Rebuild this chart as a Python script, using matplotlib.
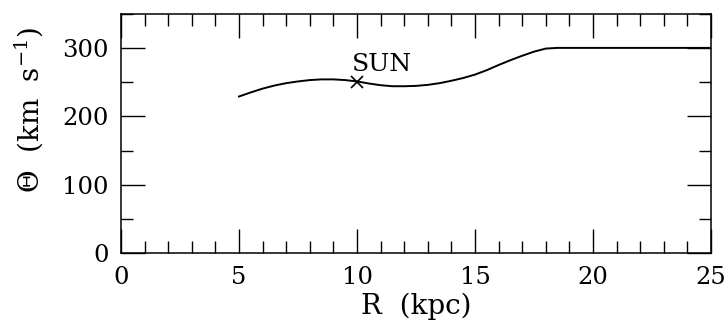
import numpy as np
import matplotlib.pyplot as plt
from matplotlib.ticker import MultipleLocator

# Кривая вращения Галактики
r_kpc = [5, 5.5, 6, 6.5, 7, 7.5, 8, 8.5, 9, 9.5, 10, 10.5, 11, 11.5, 12, 12.5,
         13, 13.5, 14, 14.5, 15, 15.5, 16, 16.5, 17, 17.5, 18, 18.5, 19, 20,
         22, 25]
theta = [229, 235, 240.5, 245, 248.5, 251, 253, 254, 254, 253, 251, 248, 245.5,
         244, 244, 244.5, 246, 248.5, 252, 256, 261, 267.5, 275, 282, 288.5,
         294.5, 299, 300, 300, 300, 300, 300]

# Положение Солнца
sun_r = 10
sun_theta = 250

plt.rcParams['font.family'] = 'DejaVu Serif'
plt.rcParams['mathtext.fontset'] = 'dejavuserif'

fig = plt.figure(figsize=(7.25, 3.25), dpi=100)
ax = fig.add_axes([0.1669, 0.2206, 0.8138, 0.7374])

ax.plot(r_kpc, theta, color='black', lw=1.4)
ax.plot(sun_r, sun_theta, marker='x', color='black', ms=9, mew=1.2)
ax.text(sun_r - 0.2, sun_theta + 9, 'SUN', fontsize=18, ha='left', va='bottom')

ax.set_xlim(0, 25)
ax.set_ylim(0, 350)
ax.xaxis.set_major_locator(MultipleLocator(5))
ax.xaxis.set_minor_locator(MultipleLocator(1))
ax.yaxis.set_major_locator(MultipleLocator(100))
ax.yaxis.set_minor_locator(MultipleLocator(50))
ax.tick_params(which='both', direction='in', top=True, right=True,
               labelsize=17.5, width=1)
ax.tick_params(which='major', length=17, pad=9)
ax.tick_params(which='minor', length=8.5)
for s in ax.spines.values():
    s.set_linewidth(1.1)

ax.set_xlabel('R  (kpc)', fontsize=20, labelpad=3)
ax.set_ylabel(r'$\Theta$  (km  s$^{-1}$)', fontsize=20)
ax.yaxis.set_label_coords(-0.128, 0.6)

fig.savefig('out.png', dpi=100)
